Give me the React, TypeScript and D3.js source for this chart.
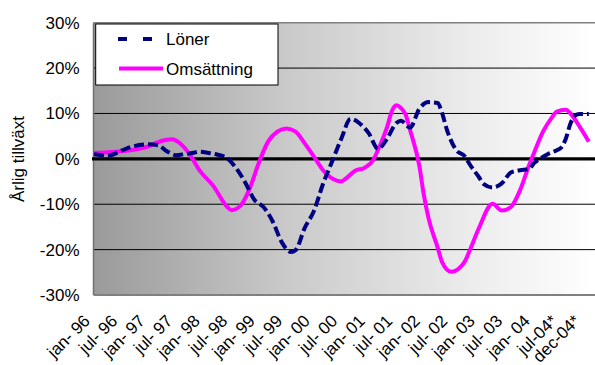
import React from "react";
import * as d3 from "d3";

// Monthly index: 0 = jan 1996
const lonerMonth = [0, 3, 6, 8, 12, 14, 16, 18, 20, 22, 23, 25, 27, 29, 31, 33, 35, 37, 39, 41, 43, 44, 46, 48, 50, 52, 54, 56, 58, 60, 62, 63, 64, 66, 67, 69, 71, 73, 75, 76, 77, 79, 81, 82, 84, 85, 87, 89, 91, 93, 95, 96, 97, 99, 101, 102, 103, 104, 105, 106, 108];
const lonerValue = [1.0, 0.7, 1.8, 2.6, 3.2, 3.0, 1.6, 0.8, 1.1, 1.4, 1.6, 1.3, 0.9, 0.2, -2.0, -5.2, -9.0, -10.6, -13.8, -18.4, -20.5, -20.1, -15.2, -11.5, -5.5, -0.5, 4.5, 8.8, 7.8, 5.6, 2.2, 3.0, 4.5, 7.9, 8.4, 6.9, 11.0, 12.5, 12.3, 10.0, 6.5, 2.0, 0.5, -1.2, -4.0, -5.5, -6.3, -5.4, -3.0, -2.5, -2.2, -1.0, -0.2, 1.0, 1.9, 2.5, 4.5, 7.8, 9.5, 9.9, 9.9];

const omsMonth = [0, 8, 12, 14, 17, 19, 21, 23, 26, 29, 30, 32, 34, 36, 38, 40, 42, 44, 46, 48, 50, 53, 54, 55, 57, 59, 61, 62, 64, 65, 66, 67, 68, 69, 71, 72, 73, 75, 76, 78, 80, 81, 82, 84, 87, 89, 91, 93, 95, 96, 98, 100, 101, 103, 104, 106, 108];
const omsValue = [1.3, 1.9, 2.8, 3.7, 4.3, 3.2, 0.8, -2.5, -5.9, -10.5, -11.3, -10.3, -6.5, -0.8, 3.8, 6.0, 6.7, 6.0, 3.4, 0.5, -2.5, -4.8, -5.0, -4.3, -2.6, -2.0, -0.2, 2.0, 7.1, 10.5, 11.8, 11.2, 9.8, 6.3, -1.5, -8.0, -13.0, -19.5, -22.8, -24.9, -23.8, -22.5, -20.2, -15.3, -9.9, -11.4, -10.6, -6.9, -1.3, 1.2, 6.0, 9.2, 10.4, 10.8, 10.0, 7.1, 3.8];

const tickMonths = [0, 6, 12, 18, 24, 30, 36, 42, 48, 54, 60, 66, 72, 78, 84, 90, 96, 102, 107];
const tickLabels = ["jan- 96", "jul- 96", "jan- 97", "jul- 97", "jan- 98", "jul- 98", "jan- 99", "jul- 99", "jan- 00", "jul- 00", "jan- 01", "jul- 01", "jan- 02", "jul- 02", "jan- 03", "jul- 03", "jan- 04", "jul-04*", "dec-04*"];

const yTicks = [-30, -20, -10, 0, 10, 20, 30];
const yTickLabels = ["-30%", "-20%", "-10%", "0%", "10%", "20%", "30%"];

const seriesNames = ["Löner", "Omsättning"];

const W = 595;
const H = 365;
const plot = { left: 93.5, right: 597, top: 22.7, bottom: 295 };
const font = "'Liberation Sans', Arial, sans-serif";

export default function App() {
  const x = d3.scaleLinear().domain([0, 108]).range([94, 588.8]);
  const y = d3.scaleLinear().domain([-30, 30]).range([plot.bottom, plot.top]);

  const line = d3
    .line<[number, number]>()
    .x((d) => x(d[0]))
    .y((d) => y(d[1]))
    .curve(d3.curveMonotoneX);

  const loner = lonerMonth.map((m, i) => [m, lonerValue[i]] as [number, number]);
  const oms = omsMonth.map((m, i) => [m, omsValue[i]] as [number, number]);

  return (
    <svg
      width={W}
      height={H}
      style={{ position: "absolute", left: 0, top: 0, background: "#fff" }}
      fontFamily={font}
    >
      <defs>
        <linearGradient id="bg" x1="0" x2="1" y1="0" y2="0">
          <stop offset="0" stopColor="#9a9a9a" />
          <stop offset="0.4" stopColor="#cbcbcb" />
          <stop offset="0.75" stopColor="#ececec" />
          <stop offset="1" stopColor="#ffffff" />
        </linearGradient>
      </defs>

      <rect
        x={plot.left}
        y={plot.top}
        width={plot.right - plot.left}
        height={plot.bottom - plot.top}
        fill="url(#bg)"
      />

      {/* grid */}
      {yTicks
        .filter((t) => t !== 0 && Math.abs(t) !== 30)
        .map((t) => (
          <line key={t} x1={plot.left} x2={plot.right} y1={y(t)} y2={y(t)} stroke="#000" strokeWidth={1} />
        ))}

      {/* plot border */}
      <line x1={plot.left} x2={plot.right} y1={plot.top} y2={plot.top} stroke="#808080" strokeWidth={1.5} />
      <line x1={plot.left} x2={plot.right} y1={plot.bottom} y2={plot.bottom} stroke="#808080" strokeWidth={2} />
      <line x1={plot.left} x2={plot.left} y1={plot.top} y2={plot.bottom} stroke="#707070" strokeWidth={1.5} />

      {/* zero axis */}
      <line x1={plot.left - 1.5} x2={plot.right} y1={y(0)} y2={y(0)} stroke="#000" strokeWidth={3.4} />

      {/* y tick labels */}
      {yTicks.map((t, i) => (
        <text key={t} x={79.5} y={y(t) + 6} textAnchor="end" fontSize={17} fill="#000">
          {yTickLabels[i]}
        </text>
      ))}

      {/* y axis title */}
      <text
        transform={`translate(24,159) rotate(-90)`}
        textAnchor="middle"
        fontSize={17}
        fill="#000"
      >
        Årlig tillväxt
      </text>

      {/* x tick labels */}
      {tickMonths.map((m, i) => (
        <text
          key={m}
          transform={`translate(${x(m) - 3},${322}) rotate(-45)`}
          textAnchor="end"
          fontSize={17}
          fill="#000"
        >
          {tickLabels[i]}
        </text>
      ))}

      {/* series */}
      <path d={line(oms) ?? ""} fill="none" stroke="#ff00ff" strokeWidth={4} strokeLinejoin="round" />
      <path
        d={line(loner) ?? ""}
        fill="none"
        stroke="#000080"
        strokeWidth={4}
        strokeDasharray="10,4"
      />

      {/* legend */}
      <rect x={95.7} y={24} width={182.3} height={61} fill="#fff" stroke="#000" strokeWidth={1} />
      <line x1={118} x2={153} y1={39} y2={39} stroke="#000080" strokeWidth={4} strokeDasharray="9,16" />
      <text x={166} y={45} fontSize={17} fill="#000">
        {seriesNames[0]}
      </text>
      <line x1={119} x2={163} y1={68.5} y2={68.5} stroke="#ff00ff" strokeWidth={4} />
      <text x={166} y={75} fontSize={17} fill="#000">
        {seriesNames[1]}
      </text>
    </svg>
  );
}
